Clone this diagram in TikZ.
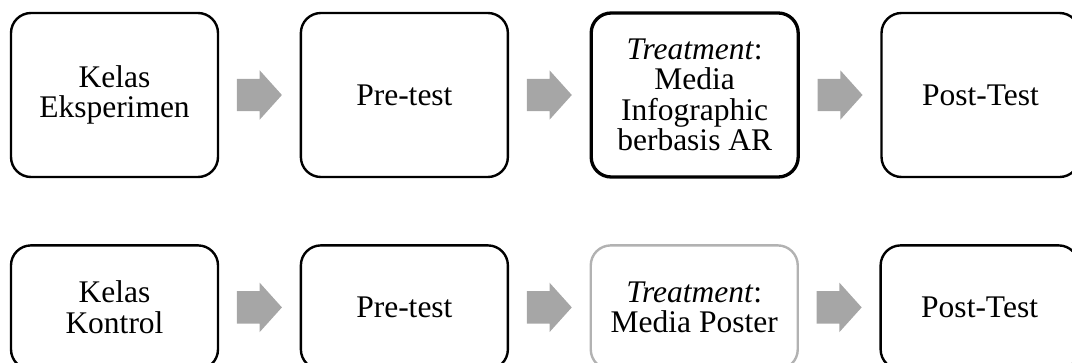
\documentclass[tikz,border=0pt]{standalone}
\usepackage{fontspec}
\setmainfont{Liberation Serif}
\usetikzlibrary{shapes,positioning}

\begin{document}
\begin{tikzpicture}[
        node distance=17.5pt,
        every node/.style={align=center, font=\fontsize{31.5}{30.5}\selectfont},
        box/.style={draw, rounded corners=20pt, line width=2.4pt, minimum width=207pt, minimum height=164pt, inner sep=0pt},
        lowbox/.style={box, minimum height=124pt},
        blockarrow/.style={single arrow, draw=none, fill=gray!70, minimum height=45pt, inner xsep=0pt, inner ysep=16pt, single arrow head extend=8.5pt, single arrow tip angle=96}
    ]

    \clip (0,0) rectangle (1072pt,-362pt);

    % Nodes, top row
    \node[box] (eksp) at (114.5pt,-95pt) {Kelas\\Eksperimen};
    \node[blockarrow, right=of eksp] (ea1) {};
    \node[box, right=of ea1] (epre) {Pre-test};
    \node[blockarrow, right=of epre] (ea2) {};
    \node[box, right=of ea2, line width=3.3pt] (etreat) {\textit{Treatment}:\\Media\\Infographic\\berbasis AR};
    \node[blockarrow, right=of etreat] (ea3) {};
    \node[box, right=of ea3, minimum width=198pt] (epost) {Post-Test};

    % Nodes, bottom row
    \node[lowbox, below=66pt of eksp] (kont) {Kelas\\Kontrol};
    \node[blockarrow, right=of kont] (ka1) {};
    \node[lowbox, right=of ka1] (kpre) {Pre-test};
    \node[blockarrow, right=of kpre] (ka2) {};
    \node[lowbox, right=of ka2, draw=gray!60] (ktreat) {\textit{Treatment}:\\Media Poster};
    \node[blockarrow, right=of ktreat] (ka3) {};
    \node[lowbox, right=of ka3, minimum width=198pt] (kpost) {Post-Test};

\end{tikzpicture}
\end{document}
